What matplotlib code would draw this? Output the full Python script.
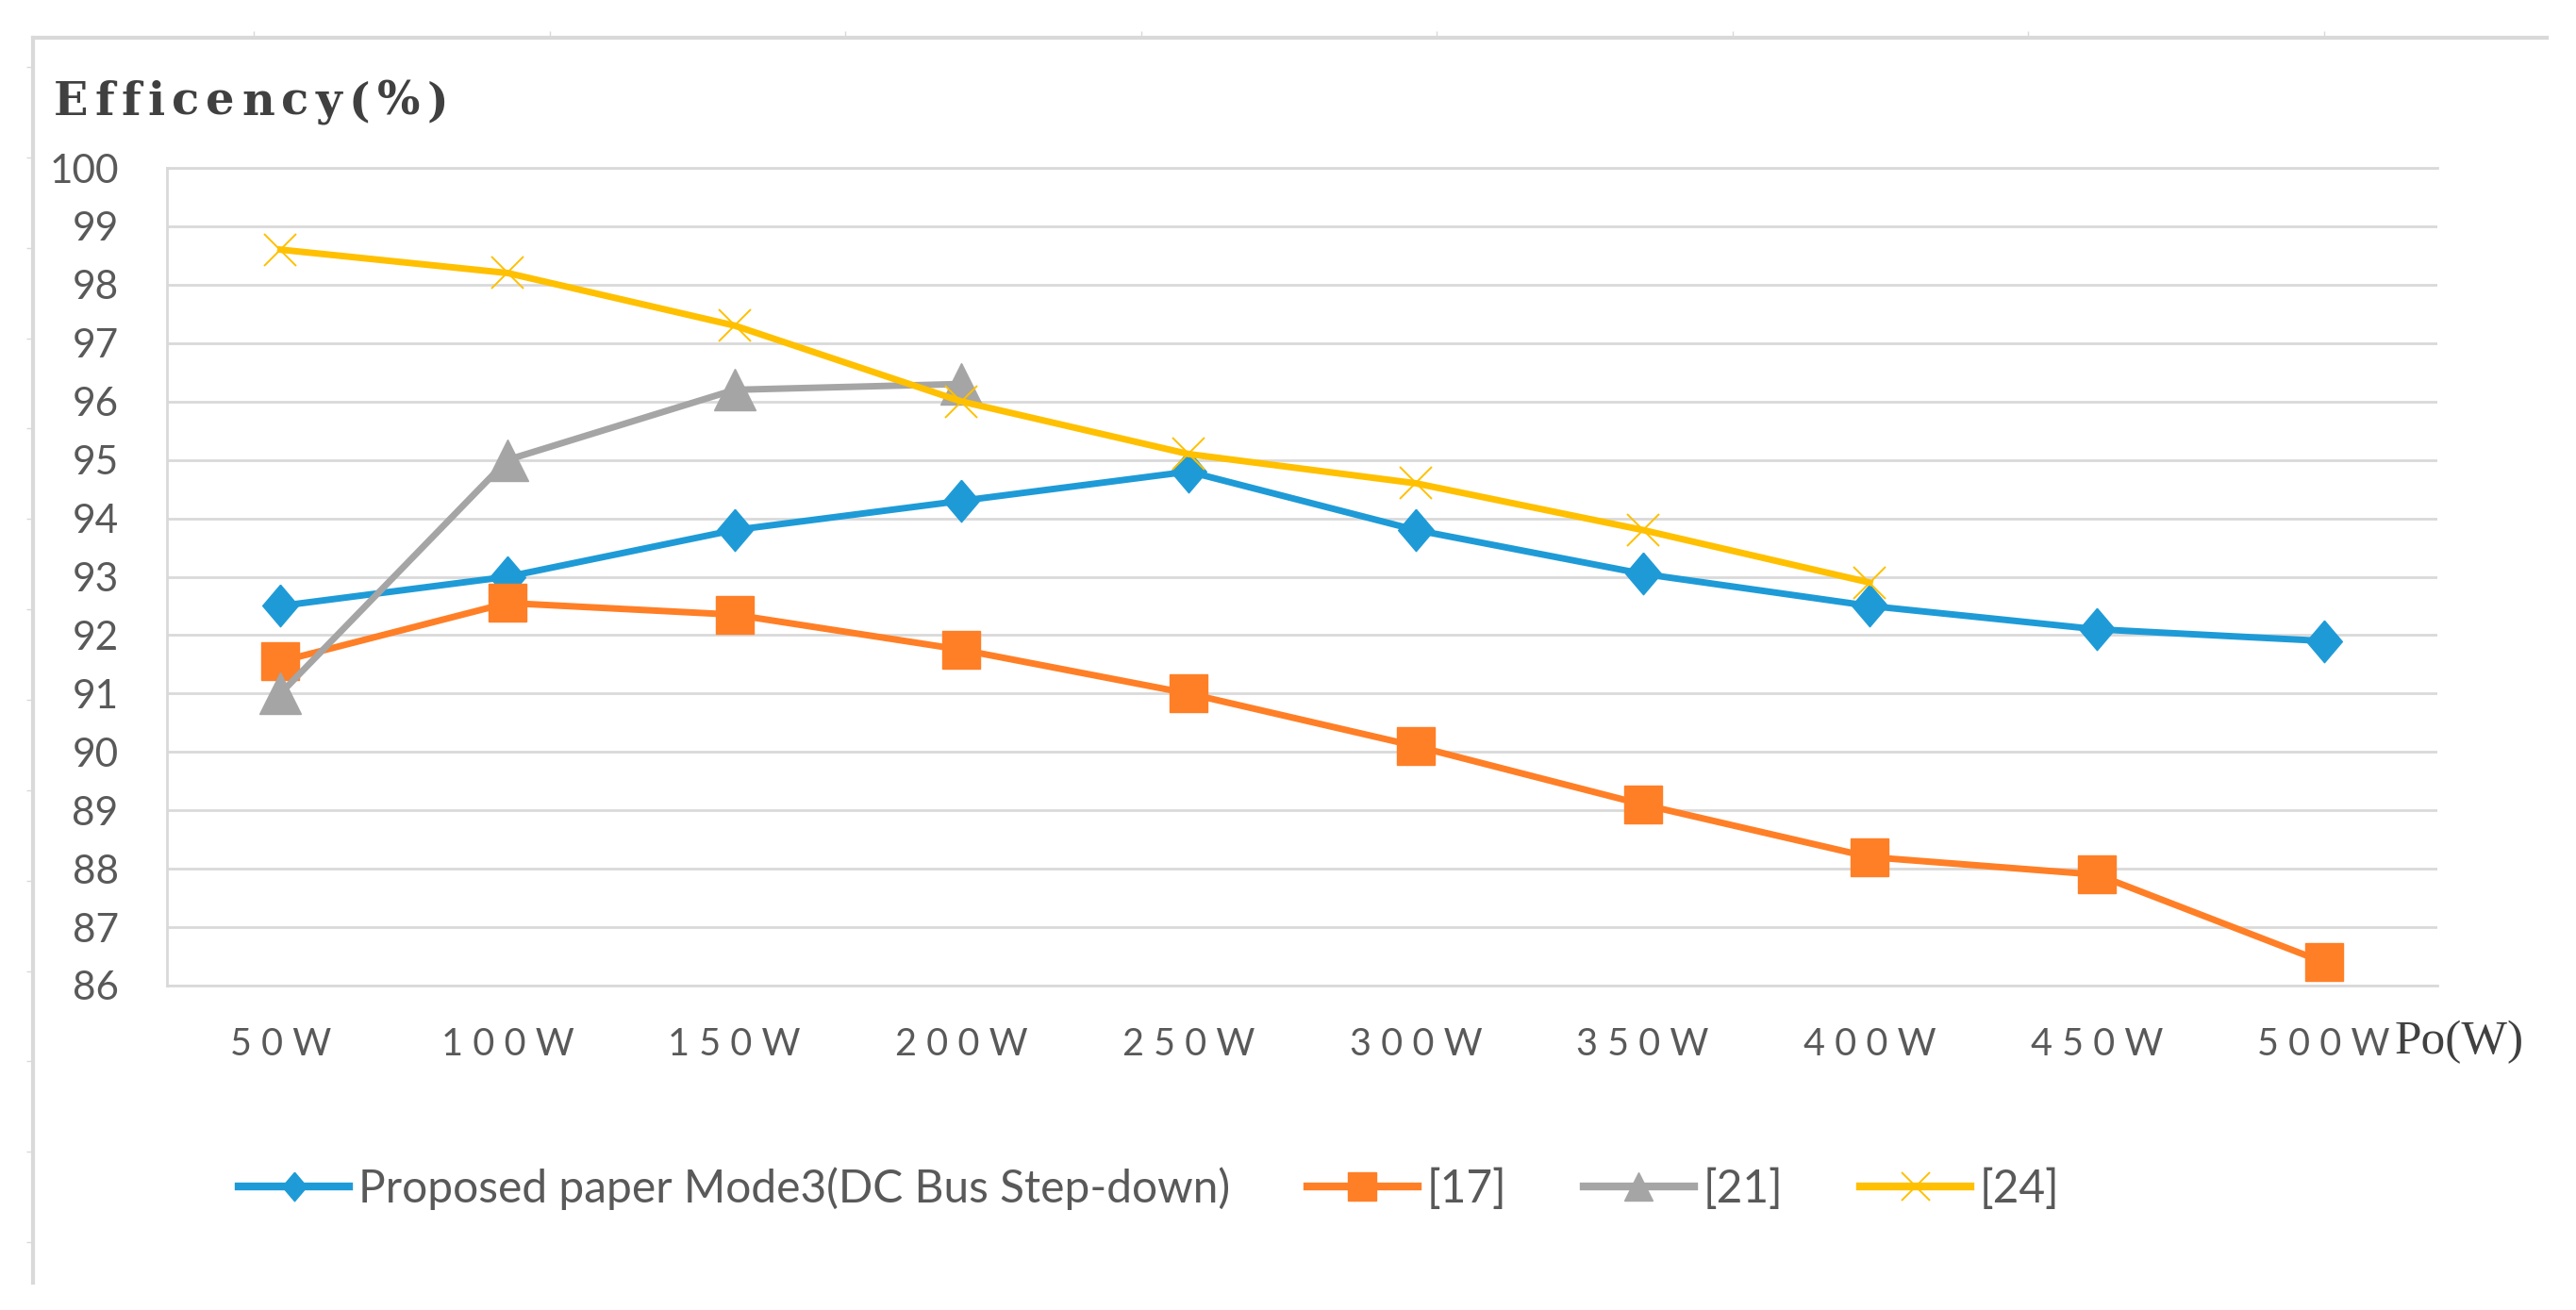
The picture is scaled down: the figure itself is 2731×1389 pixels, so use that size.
"""Efficiency vs output power: proposed Mode3 (DC bus step-down) against refs [17], [21], [24]."""
import matplotlib
matplotlib.use("Agg")
import matplotlib.pyplot as plt
import numpy as np

# --- data -----------------------------------------------------------------
POWER = ["50W", "100W", "150W", "200W", "250W", "300W", "350W", "400W", "450W", "500W"]
PROPOSED = [92.5, 93.0, 93.8, 94.3, 94.8, 93.8, 93.05, 92.5, 92.1, 91.9]
REF17 = [91.55, 92.55, 92.35, 91.75, 91.0, 90.1, 89.1, 88.2, 87.9, 86.4]
REF21 = [91.0, 95.0, 96.2, 96.3]
REF24 = [98.6, 98.2, 97.3, 96.0, 95.1, 94.6, 93.8, 92.9]
LABELS = ["Proposed paper Mode3(DC Bus Step-down)", "[17]", "[21]", "[24]"]
Y_TICKS = list(range(86, 101))

# --- style ----------------------------------------------------------------
W, H, DPI = 2731, 1389, 100
BLUE, ORANGE, GRAY, YELLOW = "#1E9BD7", "#FF7F27", "#A5A5A5", "#FFC000"
GRID = "#D9D9D9"
TXT = "#595959"
DARK = "#404040"
SANS = ["Lato", "DejaVu Sans"]

DIAMOND = [(0, 1), (0.85, 0), (0, -1), (-0.85, 0), (0, 1)]


def spaced_text(fig, x_px, y_px, s, width_px, **kw):
    """Draw s char by char so its ink spans width_px (letter-spaced title)."""
    r = fig.canvas.get_renderer()
    texts = [fig.text(0, 0, ch, **kw) for ch in s]
    widths = [t.get_window_extent(r).width for t in texts]
    track = (width_px - sum(widths)) / (len(s) - 1)
    for t, w in zip(texts, widths):
        t.set_position((x_px / W, 1 - y_px / H))
        t.set_va("baseline")
        x_px += w + track


fig = plt.figure(figsize=(W / DPI, H / DPI), dpi=DPI)

# outer chart frame (top + left only, with faint ticks)
bg = fig.add_axes([35 / W, 1 - 1360 / H, (2700 - 35) / W, (1360 - 40) / H], zorder=-1)
bg.set_xlim(35, 2700)
bg.set_ylim(1360, 40)
for side in ("bottom", "right"):
    bg.spines[side].set_visible(False)
for side in ("top", "left"):
    bg.spines[side].set_color(GRID)
    bg.spines[side].set_linewidth(3)
bg.xaxis.tick_top()
bg.set_xticks(np.arange(269, 2700, 313.5))
bg.set_yticks(np.arange(71, 1330, 95.85))
bg.tick_params(length=5, width=1, color=GRID, labeltop=False, labelleft=False,
               labelbottom=False, direction="out")
bg.patch.set_visible(False)

# plot area
ax = fig.add_axes([177 / W, 1 - 1045 / H, (2584 - 177) / W, (1045 - 178) / H])
x = np.arange(len(POWER))
ax.plot(x, PROPOSED, color=BLUE, lw=5, marker=DIAMOND, ms=32, mec=BLUE, mew=1,
        label=LABELS[0], clip_on=False, zorder=3)
ax.plot(x, REF17, color=ORANGE, lw=5, marker="s", ms=28.5, mec=ORANGE, mew=1,
        label=LABELS[1], clip_on=False, zorder=4)
ax.plot(x[:len(REF21)], REF21, color=GRAY, lw=5, marker="^", ms=31, mec=GRAY, mew=1,
        label=LABELS[2], clip_on=False, zorder=5)
ax.plot(x[:len(REF24)], REF24, color=YELLOW, lw=5, marker="x", ms=24.5, mew=1.4,
        label=LABELS[3], clip_on=False, zorder=6)

ax.set_xlim(-0.5, len(POWER) - 0.5)
ax.set_ylim(86, 100)
ax.set_yticks(Y_TICKS)
ax.set_xticks(x)
ax.set_xticklabels([" ".join(p) for p in POWER], family=SANS, fontsize=28.5, color=TXT)
ax.set_yticklabels([str(v) for v in Y_TICKS], family=SANS, fontsize=30.5, color=TXT)
ax.tick_params(axis="y", length=0, pad=37)
ax.tick_params(axis="x", length=0, pad=32)
ax.grid(axis="y", color=GRID, lw=2)
ax.set_axisbelow(True)
for side in ("top", "bottom", "left"):
    ax.spines[side].set_color(GRID)
    ax.spines[side].set_linewidth(2)
ax.spines["right"].set_visible(False)

# axis captions
spaced_text(fig, 57, 122, "Efficency(%)", 418, family="DejaVu Serif",
            fontweight="bold", fontsize=34.5, color=DARK)
fig.text(2539 / W, 1 - 1117 / H, "Po(W)", family="Liberation Serif", fontsize=37,
         color=DARK, va="baseline", ha="left")

# legend
leg = fig.legend(loc="center left", bbox_to_anchor=(253 / W, 1 - 1260 / H), ncol=4,
                 frameon=False, prop={"family": SANS, "size": 34.5}, handlelength=2.45,
                 handletextpad=0.2, columnspacing=1.7, borderpad=0, borderaxespad=0)
for t in leg.get_texts():
    t.set_color(TXT)
for h, ms in zip(leg.legend_handles, (22, 21, 22, 22)):
    h.set_markersize(ms)
    h.set_linewidth(6)

fig.savefig("out.png", dpi=DPI)
